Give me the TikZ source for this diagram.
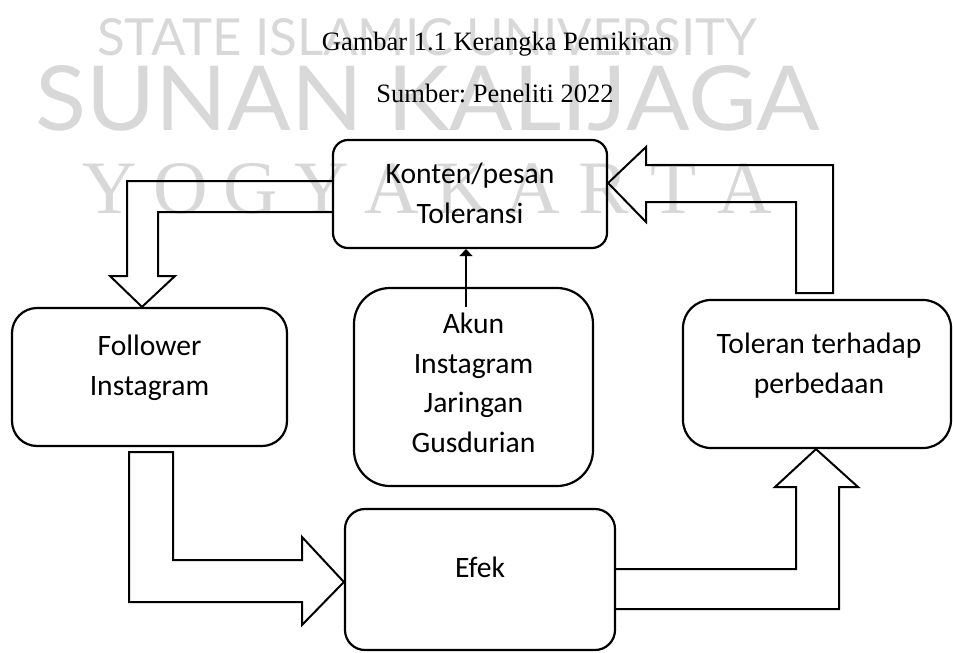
\documentclass[tikz,border=0pt]{standalone}
\usepackage{fontspec}
\setmainfont{Liberation Serif}
\newfontfamily\boxfont{Carlito}
\newfontfamily\wmsans{Lato}
\usetikzlibrary{arrows.meta}
\definecolor{wmgray}{RGB}{216,216,216}
\frenchspacing
\begin{document}
\begin{tikzpicture}[x=1pt,y=-1pt,
  box/.style={draw, line width=2.2pt, rounded corners=#1, inner sep=0pt},
  boxtext/.style={anchor=base, align=center, inner sep=0pt,
    font=\boxfont\fontsize{29.6}{39.5}\selectfont},
  captext/.style={anchor=base, inner sep=0pt, font=\fontsize{26.5}{30}\selectfont},
  wmtext/.style={inner sep=0pt, text=wmgray},
  blk/.style={draw, line width=2pt, line join=miter},
  thinarrow/.style={draw, line width=2pt, -{Triangle[width=13pt,length=7pt]}}]
\useasboundingbox (0,0) rectangle (953,653);

% watermark
\node[wmtext, anchor=base west] (wm1) at (97,55)
  {\resizebox{660pt}{37pt}{\wmsans STATE ISLAMIC UNIVERSITY}};
\node[wmtext, anchor=base west] (wm2) at (35,130)
  {\resizebox{785pt}{65pt}{\wmsans SUNAN KALIJAGA}};
\foreach \L [count=\i] in {Y,O,G,Y,A,K,A,R,T,A}
  \node[wmtext, anchor=base, font=\fontsize{75.5}{80}\selectfont] (wy\i)
    at ({110+70.5*(\i-1)},213) {\L};

% caption
\node[captext] (cap1) at (497,50) {Gambar 1.1 Kerangka Pemikiran};
\node[captext] (cap2) at (495,102) {Sumber: Peneliti 2022};

% boxes
\node[box=15pt, minimum width=274pt, minimum height=108pt] (konten) at (470,194) {};
\node[box=25pt, minimum width=275pt, minimum height=138pt] (follower) at (149.5,377) {};
\node[box=36pt, minimum width=239pt, minimum height=198pt] (akun) at (473.5,387) {};
\node[box=28pt, minimum width=268pt, minimum height=148pt] (toleran) at (817,374) {};
\node[box=20pt, minimum width=270pt, minimum height=141pt] (efek) at (480,579.5) {};

% box texts (anchored at the baseline of the last line)
\node[boxtext] (tkonten) at (470,223) {Konten/pesan\\Toleransi};
\node[boxtext] (tfollower) at (149.5,395) {Follower\\Instagram};
\node[boxtext] (takun) at (473.5,452) {Akun\\Instagram\\Jaringan\\Gusdurian};
\node[boxtext] (ttoleran) at (819,393) {Toleran terhadap\\perbedaan};
\node[boxtext] (tefek) at (480,577) {Efek};

% block arrow: Konten -> Follower
\draw[blk] (konten.west |- 0,181) -- (127,181) -- (127,276) -- (110,276)
  -- (follower.north -| 142,0) -- (175,276) -- (158,276) -- (158,212)
  -- (konten.west |- 0,212);

% thin arrow: Akun -> Konten
\coordinate (akunin) at (466,307);
\draw[thinarrow] (akunin) -- (akunin |- konten.south);

% block arrow: Follower -> Efek
\draw[blk] (129,452) -- (173,452) -- (173,560) -- (302,560) -- (302,537)
  -- (efek.west |- 0,582) -- (302,625) -- (302,602) -- (129,602) -- cycle;

% block arrow: Efek -> Toleran
\draw[blk] (efek.east |- 0,569) -- (796,569) -- (796,487) -- (775,487)
  -- (toleran.south -| 816,0) -- (858,487) -- (839,487) -- (839,609)
  -- (efek.east |- 0,609);

% block arrow: Toleran -> Konten
\draw[blk] (796,293) -- (796,202) -- (646,202) -- (646,222)
  -- (konten.east |- 0,183) -- (646,147) -- (646,165) -- (833,165)
  -- (833,293) -- cycle;
\end{tikzpicture}
\end{document}
